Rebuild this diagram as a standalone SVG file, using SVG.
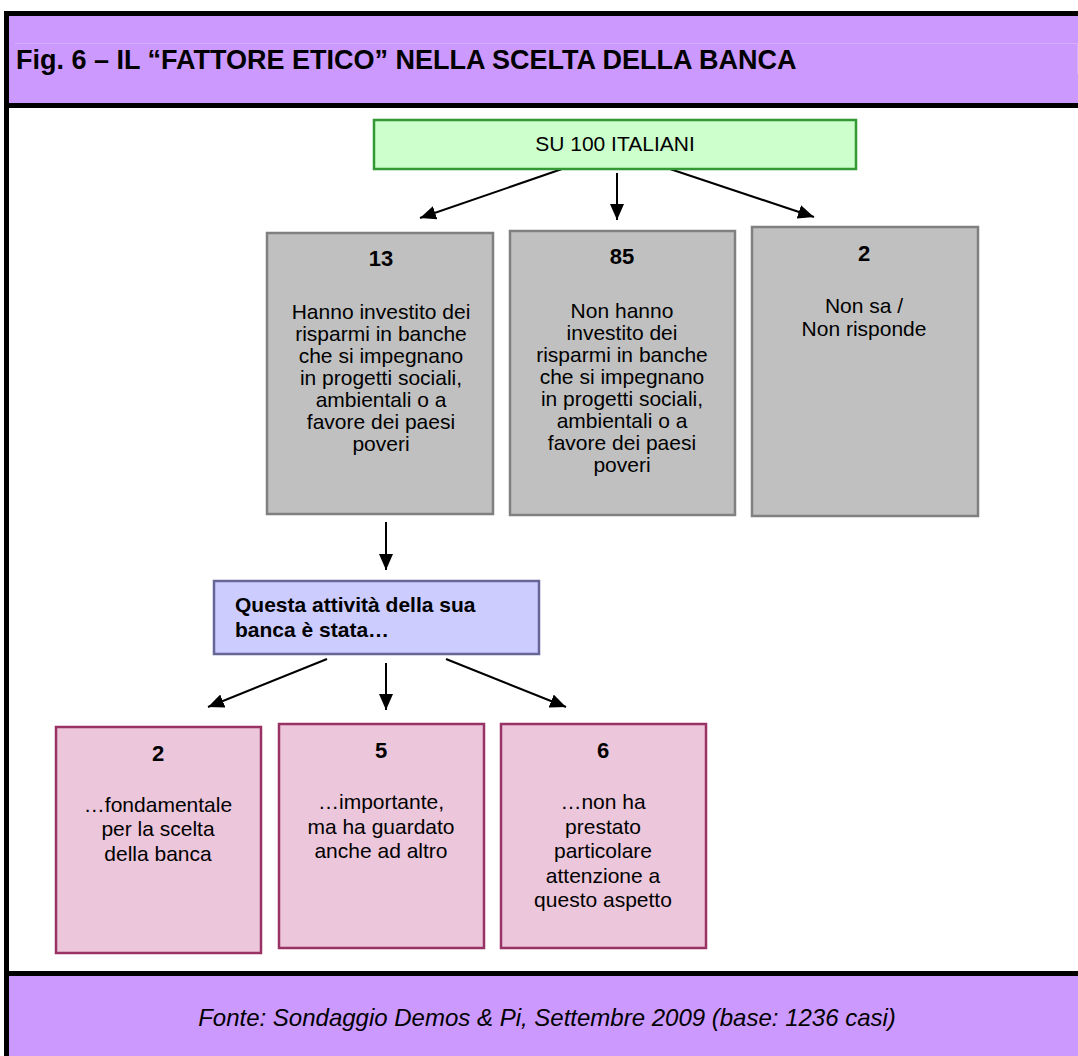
<svg xmlns="http://www.w3.org/2000/svg" width="1078" height="1056" viewBox="0 0 1078 1056">
<style>
text{font-family:"Liberation Sans",Arial,sans-serif;fill:#000}
.title{font-size:27px;font-weight:bold}
.foot{font-size:24px;font-style:italic;text-anchor:middle}
.num{font-size:22px;font-weight:bold;text-anchor:middle}
.body{font-size:21px;text-anchor:middle}
.q{font-size:21px;font-weight:bold}
.gray{fill:#c0c0c0;stroke:#808080;stroke-width:2.5}
.pink{fill:#ecc6da;stroke:#993366;stroke-width:2.5}
.conn line{stroke:#000;stroke-width:2;marker-end:url(#ah)}
</style>
<defs>
<marker id="ah" viewBox="0 0 16 14" refX="16" refY="7" markerWidth="16" markerHeight="14" markerUnits="userSpaceOnUse" orient="auto">
<path d="M0,0 L16,7 L0,14 z" fill="#000"/>
</marker>
</defs>
<rect x="0" y="0" width="1078" height="1056" fill="#fff"/>
<g id="header">
<rect x="9" y="16" width="1069" height="87" fill="#cc99ff"/>
<line x1="15" y1="43.5" x2="1078" y2="43.5" stroke="#d6b0ff" stroke-width="1"/>
<line x1="1077.5" y1="43" x2="1077.5" y2="74" stroke="#d6b0ff" stroke-width="1"/>
<text class="title" x="16" y="69">Fig. 6 – IL “FATTORE ETICO” NELLA SCELTA DELLA BANCA</text>
</g>
<g id="footer">
<rect x="9" y="976" width="1069" height="80" fill="#cc99ff"/>
<text class="foot" x="547" y="1026">Fonte: Sondaggio Demos &amp; Pi, Settembre 2009 (base: 1236 casi)</text>
</g>
<g id="frame" fill="#000">
<rect x="4" y="11" width="1074" height="5"/>
<rect x="4" y="11" width="5" height="1045"/>
<rect x="4" y="103" width="1074" height="5"/>
<rect x="4" y="971" width="1074" height="5"/>
</g>
<g class="conn" id="connectors">
<line x1="562" y1="169" x2="420" y2="218"/>
<line x1="617" y1="173" x2="617" y2="220"/>
<line x1="670" y1="169" x2="814" y2="217"/>
<line x1="386" y1="522" x2="386" y2="570"/>
<line x1="327" y1="659" x2="208" y2="707"/>
<line x1="386" y1="663" x2="386" y2="710"/>
<line x1="446" y1="659" x2="566" y2="707"/>
</g>
<g id="root">
<rect x="374" y="120" width="482" height="49" fill="#ccffcc" stroke="#339933" stroke-width="2.5"/>
<text class="body" x="615" y="151">SU 100 ITALIANI</text>
</g>
<g id="n13">
<rect class="gray" x="267" y="233" width="226" height="281"/>
<text class="num" x="381" y="266">13</text>
<text class="body" x="381" y="319">Hanno investito dei</text>
<text class="body" x="381" y="341">risparmi in banche</text>
<text class="body" x="381" y="363">che si impegnano</text>
<text class="body" x="381" y="385">in progetti sociali,</text>
<text class="body" x="381" y="407">ambientali o a</text>
<text class="body" x="381" y="429">favore dei paesi</text>
<text class="body" x="381" y="451">poveri</text>
</g>
<g id="n85">
<rect class="gray" x="510" y="231" width="225" height="284"/>
<text class="num" x="622" y="264">85</text>
<text class="body" x="622" y="318">Non hanno</text>
<text class="body" x="622" y="340">investito dei</text>
<text class="body" x="622" y="362">risparmi in banche</text>
<text class="body" x="622" y="384">che si impegnano</text>
<text class="body" x="622" y="406">in progetti sociali,</text>
<text class="body" x="622" y="428">ambientali o a</text>
<text class="body" x="622" y="450">favore dei paesi</text>
<text class="body" x="622" y="472">poveri</text>
</g>
<g id="n2a">
<rect class="gray" x="752" y="227" width="226" height="289"/>
<text class="num" x="864" y="261">2</text>
<text class="body" x="864" y="313">Non sa /</text>
<text class="body" x="864" y="336">Non risponde</text>
</g>
<g id="question">
<rect x="214" y="581" width="325" height="73" fill="#ccccff" stroke="#666699" stroke-width="2.5"/>
<text class="q" x="235" y="612">Questa attività della sua</text>
<text class="q" x="235" y="637">banca è stata…</text>
</g>
<g id="n2b">
<rect class="pink" x="56" y="727" width="205" height="226"/>
<text class="num" x="158" y="761">2</text>
<text class="body" x="158" y="812">…fondamentale</text>
<text class="body" x="158" y="836">per la scelta</text>
<text class="body" x="158" y="861">della banca</text>
</g>
<g id="n5">
<rect class="pink" x="279" y="724" width="205" height="224"/>
<text class="num" x="381" y="758">5</text>
<text class="body" x="381" y="809">…importante,</text>
<text class="body" x="381" y="834">ma ha guardato</text>
<text class="body" x="381" y="858">anche ad altro</text>
</g>
<g id="n6">
<rect class="pink" x="501" y="724" width="205" height="224"/>
<text class="num" x="603" y="758">6</text>
<text class="body" x="603" y="809">…non ha</text>
<text class="body" x="603" y="834">prestato</text>
<text class="body" x="603" y="858">particolare</text>
<text class="body" x="603" y="883">attenzione a</text>
<text class="body" x="603" y="907">questo aspetto</text>
</g>
</svg>
